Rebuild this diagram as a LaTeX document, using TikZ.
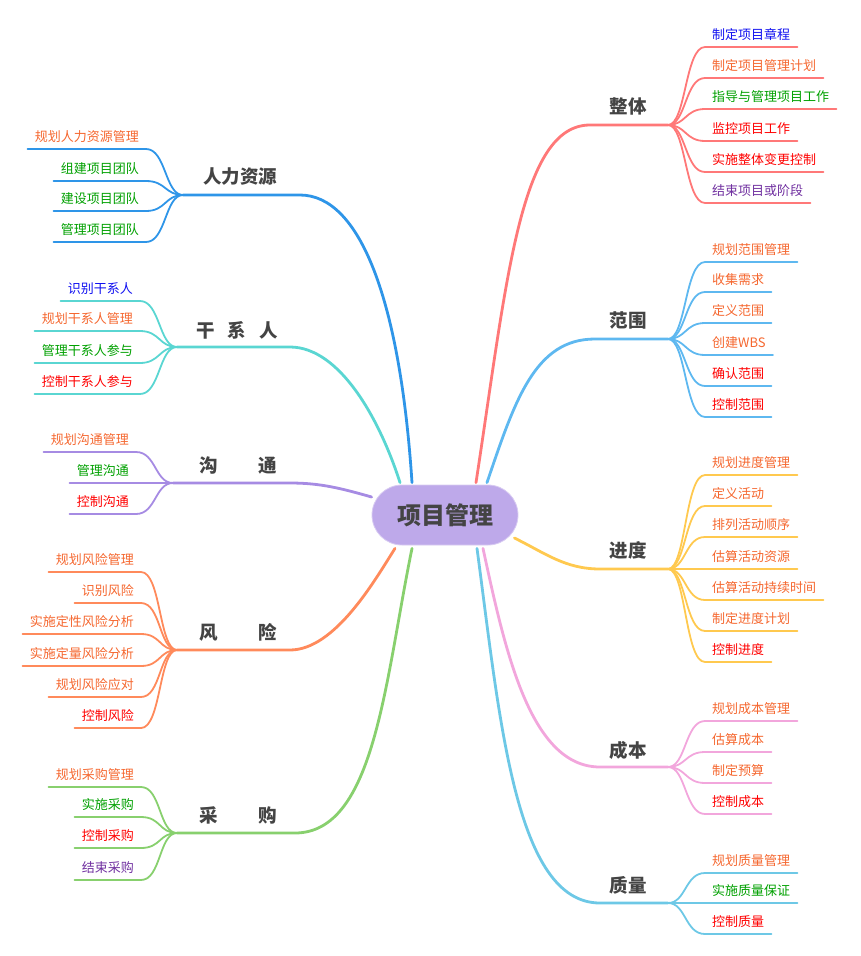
\documentclass[tikz,border=0pt]{standalone}
\usepackage{fontspec}
\setmainfont{Noto Sans CJK SC}
\usetikzlibrary{calc}
\definecolor{brInt}{HTML}{FF7878}
\definecolor{brScope}{HTML}{5EB8F0}
\definecolor{brSched}{HTML}{FFC94F}
\definecolor{brCost}{HTML}{F2A6DC}
\definecolor{brQual}{HTML}{6DC8E6}
\definecolor{brHr}{HTML}{2E95E8}
\definecolor{brStake}{HTML}{5AD6D2}
\definecolor{brComm}{HTML}{A68BE3}
\definecolor{brRisk}{HTML}{FF8A5B}
\definecolor{brProc}{HTML}{88D06E}
\definecolor{rootFill}{HTML}{BEA9EA}
\definecolor{topicGray}{HTML}{444444}
\definecolor{txtOrg}{HTML}{F5672F}
\definecolor{txtGrn}{HTML}{00A000}
\definecolor{txtRed}{HTML}{FF0000}
\definecolor{txtBlue}{HTML}{1010F0}
\definecolor{txtPur}{HTML}{7030A0}
\newcommand{\leaffont}{\fontsize{13pt}{15pt}\selectfont}
\newcommand{\topicfont}{\fontsize{18.5pt}{21pt}\selectfont\bfseries}
\newcommand{\rootfont}{\fontsize{24pt}{28pt}\selectfont\bfseries}

\begin{document}
\begin{tikzpicture}[
  x=1pt, y=-1pt,
  leafR/.style={anchor=south west, inner sep=7pt, text depth=0pt, font=\leaffont},
  leafL/.style={anchor=south east, inner sep=7pt, text depth=0pt, font=\leaffont},
  topic/.style={font=\topicfont, text=topicGray, inner sep=2pt},
  trunk/.style={line width=2.8pt, line cap=round},
  twig/.style={line width=1.8pt, line cap=round},
]
\useasboundingbox (0,0) rectangle (860,956);

% ---------------- root ----------------
\node[fill=rootFill, draw=rootFill!60!white, line width=0.8pt, rounded corners=30pt,
      minimum width=146pt, minimum height=60pt, font=\rootfont, text=topicGray]
  (pm) at (445,515) {项目管理};

% ---------------- topics ----------------
\node[topic] (int)   at (628,106) {整体};
\node[topic] (scope) at (628,320) {范围};
\node[topic] (sched) at (628,550) {进度};
\node[topic] (cost)  at (628,750) {成本};
\node[topic] (qual)  at (628,885) {质量};
\node[topic] (hr)    at (240,177) {人力资源};
\node[topic] (stake) at (237,330) {干\hspace{13pt}系\hspace{13pt}人};
\node[topic] (comm)  at (238,465) {沟\hspace{41pt}通};
\node[topic] (risk)  at (238,632) {风\hspace{41pt}险};
\node[topic] (proc)  at (238,815) {采\hspace{41pt}购};

\coordinate (int-f)   at (668,125);
\coordinate (scope-f) at (668,339);
\coordinate (sched-f) at (668,569);
\coordinate (cost-f)  at (668,767);
\coordinate (qual-f)  at (668,903);
\coordinate (hr-f)    at (183,195);
\coordinate (stake-f) at (177,347);
\coordinate (comm-f)  at (173,483);
\coordinate (risk-f)  at (177,650);
\coordinate (proc-f)  at (177,833);

% ---------------- leaves, right ----------------
\node[leafR, txtBlue] (int1) at (705,47)  {制定项目章程};
\node[leafR, txtOrg]  (int2) at (705,78)  {制定项目管理计划};
\node[leafR, txtGrn]  (int3) at (705,109) {指导与管理项目工作};
\node[leafR, txtRed]  (int4) at (705,141) {监控项目工作};
\node[leafR, txtRed]  (int5) at (705,172) {实施整体变更控制};
\node[leafR, txtPur]  (int6) at (705,203) {结束项目或阶段};

\node[leafR, txtOrg] (scope1) at (705,262) {规划范围管理};
\node[leafR, txtOrg] (scope2) at (705,292) {收集需求};
\node[leafR, txtOrg] (scope3) at (705,323) {定义范围};
\node[leafR, txtOrg] (scope4) at (705,355) {创建WBS};
\node[leafR, txtRed] (scope5) at (705,386) {确认范围};
\node[leafR, txtRed] (scope6) at (705,417) {控制范围};

\node[leafR, txtOrg] (sched1) at (705,475) {规划进度管理};
\node[leafR, txtOrg] (sched2) at (705,506) {定义活动};
\node[leafR, txtOrg] (sched3) at (705,537) {排列活动顺序};
\node[leafR, txtOrg] (sched4) at (705,569) {估算活动资源};
\node[leafR, txtOrg] (sched5) at (705,600) {估算活动持续时间};
\node[leafR, txtOrg] (sched6) at (705,631) {制定进度计划};
\node[leafR, txtRed] (sched7) at (705,662) {控制进度};

\node[leafR, txtOrg] (cost1) at (705,721) {规划成本管理};
\node[leafR, txtOrg] (cost2) at (705,752) {估算成本};
\node[leafR, txtOrg] (cost3) at (705,783) {制定预算};
\node[leafR, txtRed] (cost4) at (705,814) {控制成本};

\node[leafR, txtOrg] (qual1) at (705,873) {规划质量管理};
\node[leafR, txtGrn] (qual2) at (705,903) {实施质量保证};
\node[leafR, txtRed] (qual3) at (705,934) {控制质量};

% ---------------- leaves, left ----------------
\node[leafL, txtOrg] (hr1) at (146,149) {规划人力资源管理};
\node[leafL, txtGrn] (hr2) at (146,181) {组建项目团队};
\node[leafL, txtGrn] (hr3) at (146,211) {建设项目团队};
\node[leafL, txtGrn] (hr4) at (146,242) {管理项目团队};

\node[leafL, txtBlue] (stake1) at (140,301) {识别干系人};
\node[leafL, txtOrg]  (stake2) at (140,331) {规划干系人管理};
\node[leafL, txtGrn]  (stake3) at (140,363) {管理干系人参与};
\node[leafL, txtRed]  (stake4) at (140,394) {控制干系人参与};

\node[leafL, txtOrg] (comm1) at (136,452) {规划沟通管理};
\node[leafL, txtGrn] (comm2) at (136,483) {管理沟通};
\node[leafL, txtRed] (comm3) at (136,514) {控制沟通};

\node[leafL, txtOrg] (risk1) at (141,572) {规划风险管理};
\node[leafL, txtOrg] (risk2) at (141,603) {识别风险};
\node[leafL, txtOrg] (risk3) at (141,634) {实施定性风险分析};
\node[leafL, txtOrg] (risk4) at (141,666) {实施定量风险分析};
\node[leafL, txtOrg] (risk5) at (141,697) {规划风险应对};
\node[leafL, txtRed] (risk6) at (141,728) {控制风险};

\node[leafL, txtOrg] (proc1) at (141,787) {规划采购管理};
\node[leafL, txtGrn] (proc2) at (141,817) {实施采购};
\node[leafL, txtRed] (proc3) at (141,848) {控制采购};
\node[leafL, txtPur] (proc4) at (141,880) {结束采购};

% ---------------- trunks ----------------
\draw[trunk, brInt]   ([xshift=31pt,yshift=2pt]pm.north) .. controls (507,280) and (520,125) .. (590,125) -- (int-f);
\draw[trunk, brScope] ([xshift=42pt,yshift=2pt]pm.north) .. controls (515,400) and (535,339) .. (595,339) -- (scope-f);
\draw[trunk, brSched] ([xshift=-4pt,yshift=-23pt]pm.east) .. controls (545,553) and (565,569) .. (600,569) -- (sched-f);
\draw[trunk, brCost]  ([xshift=38pt,yshift=-3pt]pm.south) .. controls (505,650) and (530,767) .. (600,767) -- (cost-f);
\draw[trunk, brQual]  ([xshift=32pt,yshift=-3pt]pm.south) .. controls (500,720) and (515,903) .. (600,903) -- (qual-f);
\draw[trunk, brHr]    ([xshift=-33pt,yshift=2pt]pm.north) .. controls (400,300) and (360,195) .. (300,195) -- (hr-f);
\draw[trunk, brStake] ([xshift=-45pt,yshift=2pt]pm.north) .. controls (380,420) and (340,347) .. (290,347) -- (stake-f);
\draw[trunk, brComm]  ([yshift=18pt]pm.west) .. controls (340,488) and (320,483) .. (290,483) -- (comm-f);
\draw[trunk, brRisk]  ([xshift=-50pt,yshift=-3pt]pm.south) .. controls (375,580) and (335,650) .. (290,650) -- (risk-f);
\draw[trunk, brProc]  ([xshift=-33pt,yshift=-3pt]pm.south) .. controls (385,680) and (375,833) .. (295,833) -- (proc-f);

% ---------------- twigs ----------------
\foreach \i in {1,...,6}
  \draw[twig, brInt] (int-f) .. controls +(18,0) and +(-20,0) .. (int\i.south west) -- (int\i.south east);
\foreach \i in {1,...,6}
  \draw[twig, brScope] (scope-f) .. controls +(18,0) and +(-20,0) .. (scope\i.south west) -- (scope\i.south east);
\foreach \i in {1,...,7}
  \draw[twig, brSched] (sched-f) .. controls +(18,0) and +(-20,0) .. (sched\i.south west) -- (sched\i.south east);
\foreach \i in {1,...,4}
  \draw[twig, brCost] (cost-f) .. controls +(18,0) and +(-20,0) .. (cost\i.south west) -- (cost\i.south east);
\foreach \i in {1,...,3}
  \draw[twig, brQual] (qual-f) .. controls +(18,0) and +(-20,0) .. (qual\i.south west) -- (qual\i.south east);
\foreach \i in {1,...,4}
  \draw[twig, brHr] (hr-f) .. controls +(-18,0) and +(20,0) .. (hr\i.south east) -- (hr\i.south west);
\foreach \i in {1,...,4}
  \draw[twig, brStake] (stake-f) .. controls +(-18,0) and +(20,0) .. (stake\i.south east) -- (stake\i.south west);
\foreach \i in {1,...,3}
  \draw[twig, brComm] (comm-f) .. controls +(-18,0) and +(20,0) .. (comm\i.south east) -- (comm\i.south west);
\foreach \i in {1,...,6}
  \draw[twig, brRisk] (risk-f) .. controls +(-18,0) and +(20,0) .. (risk\i.south east) -- (risk\i.south west);
\foreach \i in {1,...,4}
  \draw[twig, brProc] (proc-f) .. controls +(-18,0) and +(20,0) .. (proc\i.south east) -- (proc\i.south west);

\end{tikzpicture}
\end{document}
